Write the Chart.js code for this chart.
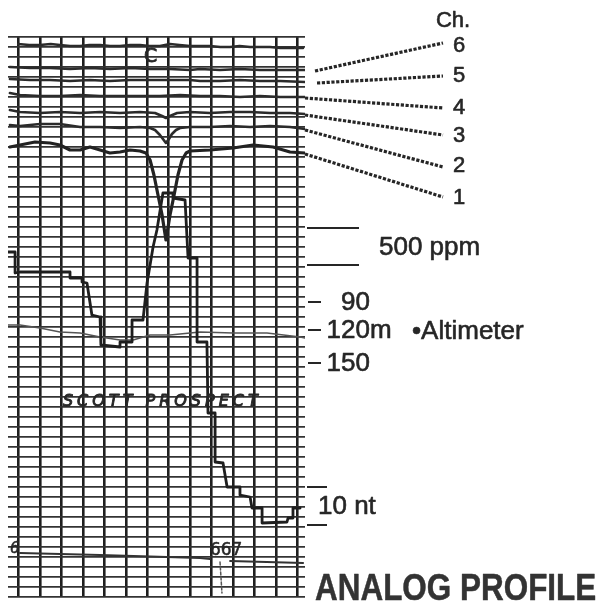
<!DOCTYPE html>
<html>
<head>
<meta charset="utf-8">
<script src="https://cdn.jsdelivr.net/npm/chart.js@4.4.1/dist/chart.umd.min.js"></script>
<style>
  html, body { margin: 0; padding: 0; background: #fff; }
  canvas { display: block; }
</style>
</head>
<body>
<canvas id="profile" width="600" height="607"></canvas>
<script>
// x: fiducial units (10 per vertical division), y: chart divisions from bottom of the strip
const xTicks = [0, 10, 20, 30, 40, 50, 60, 70, 80, 90, 100, 110, 120, 130];
const yTicks = [];
for (let i = 0; i <= 56; i++) yTicks.push(i);

// EM channel traces
const chRef = [[-0.2,55.3],[5,55.2],[10,55.2],[15,55.3],[19.3,55.2],[24,55.1],[28.7,55.1],[33,55.2],[38,55.2],[42.6,55.1],[47.3,55.1],[52,55.2],[56.6,55.2],[61,55.1],[65.9,55.1],[70.6,55.3],[75,55.2],[79.9,55.1],[84.6,55.1],[89.2,55.1],[94,55.0],[98.6,55.0],[103,55.1],[107.9,55.0],[112.5,55.0],[117.2,55.0],[122,54.9],[126.5,54.9],[132.6,54.9]];
const ch6 = [[-4.0,53.0],[5.4,52.9],[14.7,52.9],[24.0,52.8],[33.3,52.9],[42.6,52.8],[52.0,52.9],[61.3,52.8],[70.6,52.8],[79.9,52.7],[84.6,52.8],[93.9,52.7],[103.2,52.8],[112.5,52.7],[121.9,52.7],[133.5,52.7]];
const ch5 = [[-4.0,51.8],[5.4,51.7],[14.7,51.7],[24.0,51.6],[33.3,51.7],[42.6,51.6],[52.0,51.7],[61.3,51.7],[70.6,51.7],[79.9,51.7],[84.6,51.6],[93.9,51.6],[103.2,51.7],[112.5,51.6],[121.9,51.6],[133.5,51.5]];
const ch4 = [[-4.0,50.4],[0.7,50.2],[10.0,50.1],[19.3,50.1],[28.7,50.2],[38.0,50.1],[47.3,50.1],[56.6,50.1],[65.9,50.1],[75.3,50.2],[84.6,50.1],[93.9,50.1],[103.2,50.0],[112.5,50.1],[121.9,50.0],[133.5,50.0]];
const ch3 = [[-4.0,48.7],[0.7,48.5],[10.0,48.4],[19.3,48.5],[28.7,48.4],[38.0,48.5],[47.3,48.4],[56.6,48.5],[63.6,48.4],[66.9,48.1],[68.7,47.9],[70.6,48.1],[73.9,48.4],[79.9,48.5],[89.2,48.4],[98.6,48.5],[107.9,48.5],[117.2,48.4],[126.5,48.4],[133.5,48.3]];
const ch2 = [[-4.0,47.2],[0.7,47.1],[10.0,47.3],[19.3,47.3],[28.7,47.0],[38.0,47.0],[47.3,46.9],[56.6,47.0],[61.3,46.9],[63.6,46.7],[65.9,46.2],[67.3,45.8],[68.7,45.4],[70.1,45.8],[71.5,46.3],[73.4,46.7],[75.3,46.9],[79.9,47.0],[89.2,47.0],[98.6,47.1],[107.9,47.0],[117.2,47.1],[126.5,47.0],[133.5,46.8]];
const ch1 = [[-4.0,45.0],[0.7,45.2],[7.7,45.5],[14.7,45.4],[19.3,45.2],[24.0,44.7],[28.7,44.7],[33.3,45.0],[38.0,44.7],[42.6,44.4],[47.3,44.5],[52.0,44.7],[56.6,44.6],[59.4,44.4],[61.3,43.7],[63.1,42.2],[65.0,40.2],[66.9,38.2],[68.7,35.7],[70.6,38.2],[72.5,40.2],[74.3,42.2],[76.2,43.7],[78.1,44.4],[79.9,44.6],[89.2,44.7],[100.0,44.9],[109.3,45.2],[118.6,45.0],[126.5,44.5],[133.5,44.4]];

// stepped conductivity / magnetic trace
const ppm = [[-4.9,34.5],[-1.6,34.5],[-1.6,32.4],[0.7,32.5],[24.0,32.5],[24.0,31.9],[29.6,31.9],[29.6,31.5],[31.9,31.4],[34.2,28.2],[38.0,28.0],[38.4,25.2],[47.3,25.0],[47.3,25.5],[52.9,25.5],[52.9,27.7],[58.0,27.7],[59.9,31.4],[62.7,35.0],[64.5,36.7],[67.3,40.4],[72.0,40.4],[72.0,39.9],[77.6,39.7],[79.0,33.9],[83.2,33.9],[83.2,25.5],[87.8,25.5],[88.3,18.4],[91.6,18.4],[91.6,13.5],[95.3,13.4],[97.2,11.0],[103.2,11.0],[103.2,10.2],[107.9,10.0],[108.8,8.9],[113.5,8.9],[113.5,7.4],[125.1,7.5],[125.6,7.9],[127.9,7.9],[127.9,8.9],[131.2,8.9]];

const altimeter = [[-4.9,27.2],[0.7,27.2],[10.0,26.9],[19.3,26.5],[28.7,26.4],[38.0,26.0],[47.3,25.7],[53.4,25.7],[61.3,26.2],[70.6,26.2],[84.6,26.5],[100.0,26.4],[115.8,26.4],[131.2,26.0],[133.5,25.9]];

const fiducial = [[0.7,4.4],[38.0,4.2],[84.6,3.9],[89.2,3.8],[93,null],[98.6,3.6],[132.6,3.4]];
const fidMark = [[93.9,3.5],[94.8,0.4]];

// right-hand scale annotations (y in chart divisions)
const chLabels = ['6', '5', '4', '3', '2', '1'];
const ppmBar = [36.9, 33.2];
const altTicks = [['90', 29.5], ['120m', 26.7], ['150', 23.4]];
const ntBar = [11.0, 7.2];

const pts = a => a.map(p => ({ x: p[0], y: p[1] }));

function trace(data, width, color) {
  return { data: pts(data), borderColor: color, borderWidth: width, pointRadius: 0, fill: false };
}

// fill + faint stroke so the type looks like the printed original
function ink(ctx, t, x, y, w) {
  ctx.lineWidth = w || 0.6;
  ctx.strokeText(t, x, y);
  ctx.fillText(t, x, y);
}

const notes = {
  id: 'notes',
  afterDatasetsDraw(chart) {
    const { ctx, chartArea, scales } = chart;
    const xs = scales.x, ys = scales.y;
    const R = chartArea.right;
    ctx.save();
    ctx.fillStyle = '#262626';
    ctx.strokeStyle = '#262626';
    ctx.lineJoin = 'round';

    // writing on the record
    ctx.textBaseline = 'middle';
    ctx.font = '19px "DejaVu Sans"';
    ink(ctx, 'C', xs.getPixelForValue(61.3) - 6, ys.getPixelForValue(54.0), 0.8);
    ctx.font = 'italic 16px "DejaVu Sans"';
    ctx.letterSpacing = '4px';
    ink(ctx, 'SCOTT PROSPECT', xs.getPixelForValue(20.7), ys.getPixelForValue(19.5), 0.9);
    ctx.letterSpacing = '0px';
    ctx.font = '17px "DejaVu Sans"';
    ink(ctx, '667', xs.getPixelForValue(89.2), ys.getPixelForValue(4.6), 0.5);
    ctx.font = 'italic 15px "DejaVu Sans"';
    ink(ctx, '6', xs.getPixelForValue(-4.0), ys.getPixelForValue(4.8), 0.5);

    // channel leaders
    const chData = [ch6, ch5, ch4, ch3, ch2, ch1];
    const startOff = [10, 12, 0, 0, 0, 0];
    const endY = [43, 76, 108, 135, 167, 197];
    const labY = [46, 76, 108, 136, 166, 198];
    ctx.lineWidth = 3.2;
    ctx.setLineDash([3.2, 1.6]);
    chData.forEach((d, i) => {
      const last = d[d.length - 1];
      ctx.beginPath();
      ctx.moveTo(R + startOff[i], ys.getPixelForValue(last[1]) + 1);
      ctx.lineTo(443, endY[i]);
      ctx.stroke();
    });
    ctx.setLineDash([]);
    ctx.font = '22px "Liberation Sans"';
    ctx.textAlign = 'center';
    ink(ctx, 'Ch.', 453, 21);
    chLabels.forEach((t, i) => ink(ctx, t, 459, labY[i]));

    // 500 ppm bar
    ctx.textAlign = 'left';
    ppmBar.forEach(v => {
      const y = ys.getPixelForValue(v);
      ctx.lineWidth = 2;
      ctx.beginPath(); ctx.moveTo(R + 2, y); ctx.lineTo(R + 54, y); ctx.stroke();
    });
    ctx.font = '26px "Liberation Sans"';
    ink(ctx, '500 ppm', 379, ys.getPixelForValue((ppmBar[0] + ppmBar[1]) / 2) + 1);

    // altimeter scale
    altTicks.forEach(([t, v]) => {
      const y = ys.getPixelForValue(v);
      ctx.lineWidth = 2;
      ctx.beginPath(); ctx.moveTo(R + 3, y); ctx.lineTo(R + 16, y); ctx.stroke();
      const num = t.replace('m', '');
      ctx.textAlign = 'right';
      ink(ctx, num, 370, y + 1);
      if (num !== t) { ctx.textAlign = 'left'; ink(ctx, 'm', 370, y + 1); }
    });
    ctx.textAlign = 'left';
    ink(ctx, '\u2022Altimeter', 412, ys.getPixelForValue(altTicks[1][1]) + 2);

    // 10 nt bar
    ntBar.forEach(v => {
      const y = ys.getPixelForValue(v);
      ctx.lineWidth = 2;
      ctx.beginPath(); ctx.moveTo(R + 2, y); ctx.lineTo(R + 22, y); ctx.stroke();
    });
    ink(ctx, '10 nt', 318, ys.getPixelForValue((ntBar[0] + ntBar[1]) / 2) + 1);

    // title
    ctx.fillStyle = '#333';
    ctx.strokeStyle = '#333';
    ctx.font = 'bold 37px "Liberation Sans"';
    ctx.textBaseline = 'alphabetic';
    ctx.save();
    ctx.translate(315, 600);
    ctx.scale(0.85, 1);
    ink(ctx, 'ANALOG PROFILE', 0, 0, 0.5);
    ctx.restore();

    ctx.restore();
  }
};

new Chart(document.getElementById('profile'), {
  type: 'line',
  data: {
    datasets: [
      trace(chRef, 2.4, '#2b2b2b'),
      trace(ch6, 2.6, '#2b2b2b'),
      trace(ch5, 2.6, '#2b2b2b'),
      trace(ch4, 2.6, '#2b2b2b'),
      trace(ch3, 2.6, '#2b2b2b'),
      trace(ch2, 2.6, '#2b2b2b'),
      trace(ch1, 3.2, '#222'),
      trace(ppm, 2.8, '#1e1e1e'),
      trace(altimeter, 1.5, '#555'),
      trace(fiducial, 2, '#333'),
      Object.assign(trace(fidMark, 1.5, '#555'), { borderDash: [3, 2] })
    ]
  },
  options: {
    responsive: false,
    animation: false,
    layout: { padding: { left: 8, top: 37, right: 295, bottom: 10 } },
    plugins: { legend: { display: false }, tooltip: { enabled: false } },
    elements: { line: { tension: 0, borderJoinStyle: 'round', borderCapStyle: 'round' } },
    scales: {
      x: {
        type: 'linear', min: -4.9, max: 133.5,
        border: { display: false },
        grid: { color: '#1e1e1e', lineWidth: 2.6, drawTicks: false },
        ticks: { display: false },
        afterBuildTicks: s => { s.ticks = xTicks.map(v => ({ value: v })); }
      },
      y: {
        type: 'linear', min: 0, max: 56,
        border: { display: false },
        grid: { color: '#333', lineWidth: 1.7, drawTicks: false },
        ticks: { display: false },
        afterBuildTicks: s => { s.ticks = yTicks.map(v => ({ value: v })); }
      }
    }
  },
  plugins: [notes]
});
</script>
</body>
</html>
